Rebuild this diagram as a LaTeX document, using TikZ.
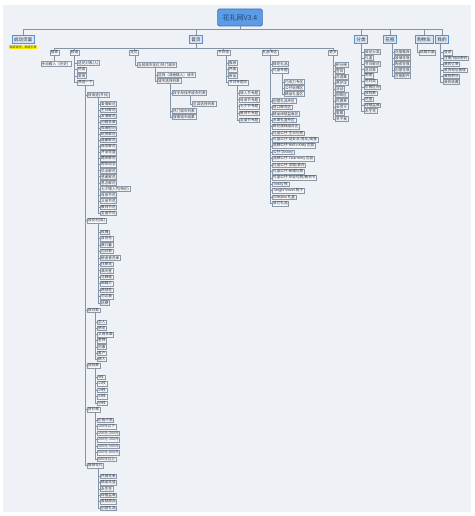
\documentclass[tikz,border=0pt]{standalone}
\usepackage{fontspec}
\setmainfont{Noto Sans CJK SC}
\definecolor{bgc}{HTML}{EEF1F6}
\definecolor{linec}{HTML}{8593A6}
\definecolor{leaff}{HTML}{F4F6FA}
\definecolor{leafd}{HTML}{8B98AA}
\definecolor{topf}{HTML}{D6E6F8}
\definecolor{topd}{HTML}{5B8FD0}
\definecolor{rootf}{HTML}{5C9CE6}
\definecolor{rootd}{HTML}{3A72B8}
\definecolor{txtc}{HTML}{333333}
\definecolor{notef}{HTML}{FFF200}
\newcommand{\mylist}[7]{%
  \foreach \t [count=\i] in {#7} {%
    \node[leaf] (#2-\i) at (#4, {#5+#6*(\i-1)}) {\t};
    \draw[conn] (#1.south -| #3,0) |- (#2-\i.west);
  }}
\begin{document}
\begin{tikzpicture}[x=1pt,y=-1pt,
  conn/.style={draw=linec, line width=0.5pt},
  leaf/.style={draw=leafd, fill=leaff, text=txtc, font=\fontsize{3.6}{4}\selectfont, inner xsep=1pt, inner ysep=0pt, minimum height=4.6pt, line width=0.4pt, anchor=west},
  topbox/.style={draw=topd, fill=topf, text=black!80, font=\fontsize{4.6}{5}\selectfont, inner xsep=2pt, inner ysep=0pt, minimum height=8.5pt, line width=0.5pt},
  rootbox/.style={draw=rootd, fill=rootf, text=rootd!60!black, font=\fontsize{7}{8}\selectfont, inner xsep=5pt, inner ysep=0pt, minimum height=17pt, rounded corners=1.5pt, line width=0.6pt},
  notebox/.style={fill=notef, text=txtc, font=\fontsize{3}{3.5}\selectfont, inner xsep=0.6pt, inner ysep=0.4pt}]
\useasboundingbox (0,0) rectangle (474,516);
\fill[white] (0,0) rectangle (474,516);
\fill[bgc] (3,5) rectangle (471,512);

% root and top level
\node[rootbox] (root) at (240,17.5) {花礼网V3.4};
\node[topbox] (qd) at (23,39.5) {启动页面};
\node[topbox] (sy) at (196,39.5) {首页};
\node[topbox] (fl) at (361,39.5) {分类};
\node[topbox] (hp) at (390,39.5) {花瓶};
\node[topbox] (gwc) at (424,39.5) {购物车};
\node[topbox] (wd) at (442,39.5) {我的};
\foreach \n in {qd,sy,fl,hp,gwc,wd} {\draw[conn] (root.south) -- ++(0,2.5) -| (\n.north);}
\node[notebox] (qn) at (23,47) {新版说明，新版引导};

% 首页 children
\node[leaf,anchor=center] (ss) at (54.5,52.5) {搜索};
\node[leaf,anchor=center] (pd) at (74.5,52.5) {频道};
\node[leaf,anchor=center] (dw) at (134,52.5) {定位};
\node[leaf,anchor=center] (jr) at (223.5,52.5) {节日馆};
\node[leaf,anchor=center] (lp) at (270,52.5) {礼品专区};
\node[leaf,anchor=center] (gd) at (333,52.5) {更多};
\foreach \n in {ss,pd,dw,jr,lp,gd} {\draw[conn] (sy.south) -- ++(0,4) -| (\n.north);}

% 搜索
\node[leaf] (s1) at (40.5,64) {手动输入（历史）};
\draw[conn] (ss.south) -- (ss.south |- s1.north);

% 频道
\mylist{pd}{pd}{74.5}{77}{63}{6.5}{送花对象(人),热卖,常用,筛选一下}
\node[leaf] (a1) at (87,95) {按用途(节日)};
\node[leaf] (a2) at (87,220.5) {按花材(类)};
\node[leaf] (a3) at (87,310) {按对象};
\node[leaf] (a4) at (87,365.5) {按枝数};
\node[leaf] (a5) at (87,409.5) {按价格};
\node[leaf] (a6) at (87,465.5) {推荐花礼};
\foreach \n in {a1,a2,a3,a4,a5,a6} {\draw[conn] (pd-4.south -| 85,0) |- (\n.west);}
\mylist{a1}{a1}{98}{100}{104}{6.06}{爱情鲜花,生日鲜花,友情鲜花,问候长辈,探病慰问,祝贺鲜花,道歉鲜花,商务鲜花,开业花篮,婚庆鲜花,周年纪念,毕业鲜花,感谢鲜花,思念鲜花,七夕情人节(特价),母亲节花,父亲节花,教师节花,圣诞节花}
\mylist{a2}{a2}{98}{100}{232}{6.45}{玫瑰,百合花,康乃馨,向日葵,郁金香花束,扶郎花,满天星,马蹄莲,蝴蝶兰,绣球花,勿忘我,桔梗}
\mylist{a3}{a3}{95}{97}{322}{6.2}{恋人,朋友,父母长辈,老师,同事,客户,病人}
\mylist{a4}{a4}{95}{97}{377}{6.5}{9枝,11枝,19枝,33枝,99枝}
\mylist{a5}{a5}{95}{97}{420}{6.5}{价格不限,100元以下,100元-200元,200元-300元,300元-500元,500元-800元,800元以上}
\mylist{a6}{a6}{98}{100}{476}{6.4}{热销花束,精品花篮,永生花,绿植盆栽,蛋糕甜品,创意礼品}

% 定位
\node[leaf] (d1) at (137,65) {当前城市定位/热门城市};
\draw[conn] (dw.south -| 135,0) |- (d1.west);
\mylist{d1}{d1}{155}{157}{75}{6}{选择（或者输入）城市,城市选择列表}
\node[leaf] (e1) at (172,93) {按字母排序城市列表};
\node[leaf] (e2) at (172,111) {热门城市列表};
\node[leaf] (e3) at (172,117) {搜索城市结果};
\foreach \n in {e1,e2,e3} {\draw[conn] (d1-2.south -| 170,0) |- (\n.west);}
\node[leaf] (f1) at (192,104) {区县选择列表};
\draw[conn] (e1.south -| 190,0) |- (f1.west);

% 节日馆
\mylist{jr}{jr}{226}{228}{63}{6.5}{推荐,热卖,新品,节日专题页}
\mylist{jr-4}{jt}{237}{239}{93}{6.75}{情人节专题,母亲节专题,七夕节专题,教师节专题,圣诞节专题}

% 礼品专区
\mylist{lp}{lp}{270}{272}{64}{6.5}{鲜花礼品,礼品专题}
\mylist{lp-2}{lq}{282}{284}{82}{6}{巧克力专区,公仔玩偶区,精品礼盒区}
\mylist{lp}{lr}{270}{272}{101}{6.4}{创意礼品专区,进口鲜花区,精品绿植盆栽区,水果礼篮专区,鲜花蛋糕组合区,礼品公仔-生日礼物,礼品公仔-送女友/男友/闺蜜,品牌公仔-Hello Kitty 正品,公仔-Disney,品牌公仔-Charmmy 正品,礼品公仔-求婚/表白,礼品公仔-新婚礼物,礼品公仔-毕业礼物/教师节,Teddy 熊,TangleTeezer 梳子,Giftsbox 礼盒,其它礼品}

% 更多
\mylist{gd}{gd}{333}{335}{65}{6}{积分榜,签到,花语集,养护法,活动,团购区,优惠券,会员卡,客服,关于我}

% 分类
\mylist{fl}{fl}{361}{364}{52}{5.9}{鲜花分类,礼盒,节日鲜花,送对象,用途,花材类,价格区间,按枝数,花篮,绿植盆栽,永生花}

% 花瓶
\mylist{hp}{hp}{392}{394}{52}{6}{花瓶推荐,玻璃花瓶,陶瓷花瓶,创意花瓶,花瓶配件}

% 购物车
\mylist{gwc}{gw}{417}{419}{52.5}{6}{结算页面}

% 我的
\mylist{wd}{wd}{440}{443}{52.5}{5.9}{登录,注册/找回密码,我的订单,收货地址管理,我的积分,我的收藏}
\end{tikzpicture}
\end{document}
